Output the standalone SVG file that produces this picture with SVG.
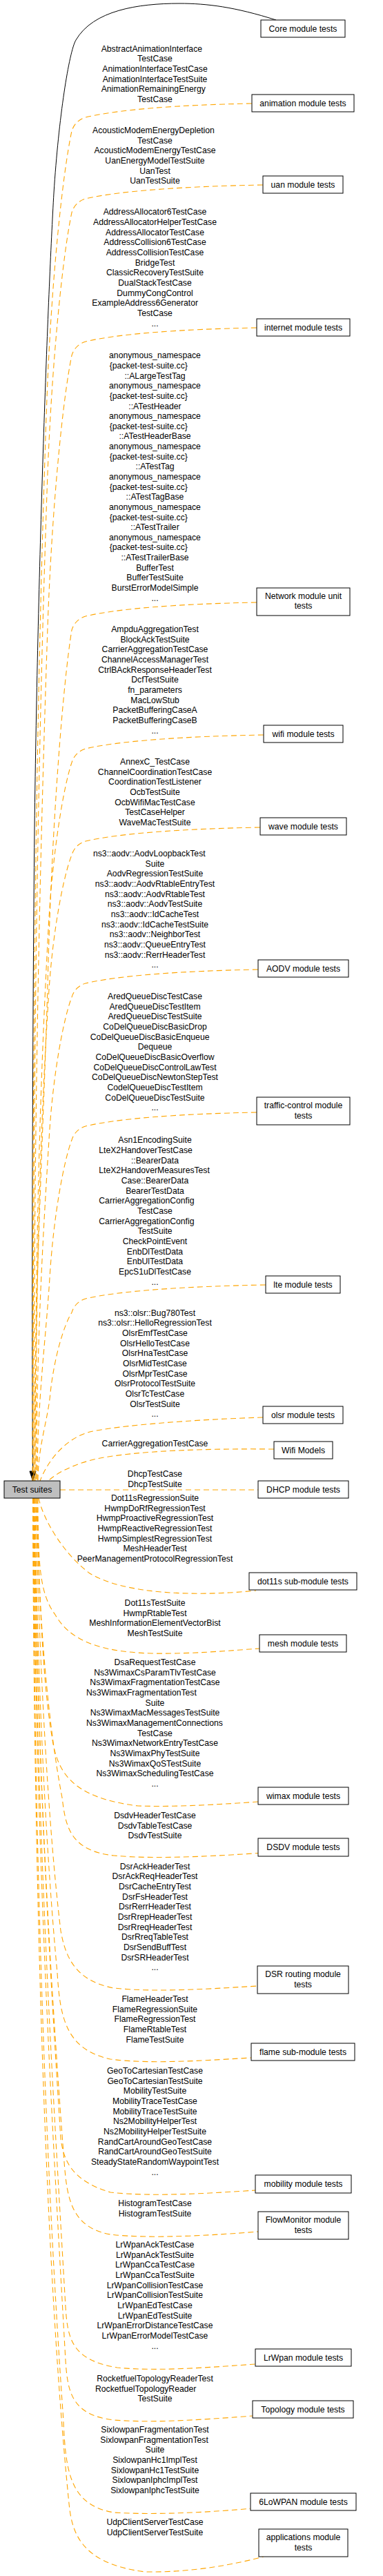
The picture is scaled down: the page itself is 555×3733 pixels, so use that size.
<svg xmlns="http://www.w3.org/2000/svg" width="555" height="3733" viewBox="0 0 555 3733">
<style>
text{font-family:"Liberation Sans",Arial,Helvetica,sans-serif;font-size:12.2px;fill:#000}
.n{text-anchor:middle}
.c{text-anchor:middle}
.l{text-anchor:start}
.box{fill:#fff;stroke:#000;stroke-width:1}
.root{fill:#bfbfbf;stroke:#000;stroke-width:1}
.d{fill:none;stroke:#ffa500;stroke-width:1.1;stroke-dasharray:8,5}
.s{fill:none;stroke:#000;stroke-width:1}
</style>
<rect x="0" y="0" width="555" height="3733" fill="#fff"/>
<g id="connectors">
<path class="s" d="M400,29 C340,10 300,5 260,5 C200,5 135,15 110,58 C100,75 85,170 78,280 C70,420 55,800 50,1200 C47,1500 46,1900 47.5,2132"/>
<polygon points="43,2132 52,2132 47.5,2146" fill="#000" stroke="#000"/>
<path class="d" d="M365,150 C256.5,152 170,159 124,170 C114,173 107,180 104,190 C90.9,250 73.8,410 67.5,590 C51.2,1056.8 47,1523.6 47,2146"/>
<path class="d" d="M381,268 C265.4,270 170,277 124,288 C114,291 107,298 104,308 C91.1,368 74.3,528 68.2,708 C53.4,1139.4 48,1570.8 48,2146"/>
<path class="d" d="M372,475 C260.4,477 170,484 124,495 C114,498 107,505 104,515 C91.4,575 74.9,735 68.8,915 C56.4,1284.3 49,1653.6 49,2146"/>
<path class="d" d="M372,873 C260.4,875 170,882 124,893 C114,896 107,903 104,913 C91.6,988 75.4,1188 69.4,1413 C63.6,1632.9 50,1852.8 50,2146"/>
<path class="d" d="M382,1065 C265.9,1067 170,1074 124,1085 C114,1088 107,1095 104,1105 C91.8,1141 75.9,1237 70.1,1345 C57.1,1585.3 51,1825.6 51,2146"/>
<path class="d" d="M377,1199 C263.2,1201 170,1208 124,1219 C114,1222 107,1229 104,1239 C92,1269 76.4,1349 70.7,1439 C57.2,1651.1 52,1863.2 52,2146"/>
<path class="d" d="M374,1405 C261.5,1407 170,1414 124,1425 C114,1428 107,1435 104,1445 C92.3,1475 77,1555 71.4,1645 C62,1795.3 53,1945.6 53,2146"/>
<path class="d" d="M372,1612 C260.4,1614 170,1621 124,1632 C114,1635 107,1642 104,1652 C92.5,1682 77.5,1762 72,1852 C66.6,1940.2 54,2028.4 54,2146"/>
<path class="d" d="M385,1862 C267.6,1864 170,1871 124,1882 C114,1885 107,1892 104,1902 C92.7,1920 78,1968 72.6,2022 C68.9,2059.2 55,2096.4 55,2146"/>
<path class="d" d="M381,2054 C280,2057 170,2066 130,2075 C100,2083 72,2110 58,2146"/>
<path class="d" d="M397,2100 C300,2099 200,2102 140,2114 C105,2122 80,2136 70,2146"/>
<path class="d" d="M87,2159 L374,2159"/>
<path class="d" d="M56,2171 C62,2200 90,2250 130,2280 C180,2310 280,2314 371,2305"/>
<path class="d" d="M55,2171 C55,2270 58,2310 80,2340 C100,2375 140,2394 220,2396 C280,2397 330,2392 376,2389"/>
<path class="d" d="M54,2171 C56,2300 62,2440 75,2515 C82,2565 100,2605 200,2617 C260,2619 330,2614 374,2611"/>
<path class="d" d="M53,2171 C56,2350 70,2500 90,2605 C95,2645 100,2682 165,2689 C230,2695 320,2689 374,2685.5"/>
<path class="d" d="M52,2171 C56,2400 70,2650 88,2798 C94,2830 105,2870 165,2881 C230,2888 320,2881 373,2878"/>
<path class="d" d="M51,2171 C54,2450 68,2700 83,2859 C87,2925 96,2970 160,2984 C220,2992 310,2985 364,2982"/>
<path class="d" d="M50,2171 C54,2550 72,2850 88,3099 C92,3130 103,3160 160,3177 C220,3184 310,3178 370,3174"/>
<path class="d" d="M49.5,2171 C53,2550 75,2900 93,3133 C97,3185 103,3228 160,3238 C220,3245 310,3239 374,3234"/>
<path class="d" d="M49,2171 C52,2650 78,3050 95,3343 C98,3390 104,3420 170,3431 C230,3437 310,3430 370,3426"/>
<path class="d" d="M48.5,2171 C51,2700 80,3150 95,3421 C98,3465 103,3500 165,3507 C230,3512 310,3505 366,3501"/>
<path class="d" d="M48,2171 C50,2750 70,3200 91.7,3504 C95,3580 100,3630 165,3641 C230,3645 310,3640 362.7,3635.3"/>
<path class="d" d="M47.5,2171 C49,2650 62,3250 100,3628 C104,3668 115,3715 210,3727 C280,3728 340,3716 381.7,3705"/>
</g>
<g id="edge-labels">
<text class="l" x="146.7" y="74.7">AbstractAnimationInterface</text>
<text class="c" x="224.5" y="89.4">TestCase</text>
<text class="c" x="224.5" y="104">AnimationInterfaceTestCase</text>
<text class="c" x="224.5" y="118.7">AnimationInterfaceTestSuite</text>
<text class="l" x="146.7" y="133.4">AnimationRemainingEnergy</text>
<text class="c" x="224.5" y="148">TestCase</text>

<text class="l" x="134" y="193">AcousticModemEnergyDepletion</text>
<text class="c" x="224.5" y="207.7">TestCase</text>
<text class="c" x="224.5" y="222.3">AcousticModemEnergyTestCase</text>
<text class="c" x="224.5" y="237">UanEnergyModelTestSuite</text>
<text class="c" x="224.5" y="251.7">UanTest</text>
<text class="c" x="224.5" y="266.3">UanTestSuite</text>

<text class="c" x="224.5" y="311.4">AddressAllocator6TestCase</text>
<text class="c" x="224.5" y="326.1">AddressAllocatorHelperTestCase</text>
<text class="c" x="224.5" y="340.7">AddressAllocatorTestCase</text>
<text class="c" x="224.5" y="355.4">AddressCollision6TestCase</text>
<text class="c" x="224.5" y="370.1">AddressCollisionTestCase</text>
<text class="c" x="224.5" y="384.7">BridgeTest</text>
<text class="c" x="224.5" y="399.4">ClassicRecoveryTestSuite</text>
<text class="c" x="224.5" y="414.1">DualStackTestCase</text>
<text class="c" x="224.5" y="428.8">DummyCongControl</text>
<text class="l" x="133.3" y="443.4">ExampleAddress6Generator</text>
<text class="c" x="224.5" y="458.1">TestCase</text>
<text class="c" x="224.5" y="472.8">...</text>

<text class="c" x="224.5" y="519.4">anonymous_namespace</text>
<text class="l" x="158.7" y="534">{packet-test-suite.cc}</text>
<text class="c" x="224.5" y="548.7">::ALargeTestTag</text>
<text class="c" x="224.5" y="563.3">anonymous_namespace</text>
<text class="l" x="158.7" y="577.9">{packet-test-suite.cc}</text>
<text class="c" x="224.5" y="592.6">::ATestHeader</text>
<text class="c" x="224.5" y="607.2">anonymous_namespace</text>
<text class="l" x="158.7" y="621.8">{packet-test-suite.cc}</text>
<text class="c" x="224.5" y="636.4">::ATestHeaderBase</text>
<text class="c" x="224.5" y="651.1">anonymous_namespace</text>
<text class="l" x="158.7" y="665.7">{packet-test-suite.cc}</text>
<text class="c" x="224.5" y="680.3">::ATestTag</text>
<text class="c" x="224.5" y="695">anonymous_namespace</text>
<text class="l" x="158.7" y="709.6">{packet-test-suite.cc}</text>
<text class="c" x="224.5" y="724.2">::ATestTagBase</text>
<text class="c" x="224.5" y="738.9">anonymous_namespace</text>
<text class="l" x="158.7" y="753.5">{packet-test-suite.cc}</text>
<text class="c" x="224.5" y="768.1">::ATestTrailer</text>
<text class="c" x="224.5" y="782.7">anonymous_namespace</text>
<text class="l" x="158.7" y="797.4">{packet-test-suite.cc}</text>
<text class="c" x="224.5" y="812">::ATestTrailerBase</text>
<text class="c" x="224.5" y="826.6">BufferTest</text>
<text class="c" x="224.5" y="841.3">BufferTestSuite</text>
<text class="c" x="224.5" y="855.9">BurstErrorModelSimple</text>
<text class="c" x="224.5" y="870.5">...</text>

<text class="c" x="224.5" y="916">AmpduAggregationTest</text>
<text class="c" x="224.5" y="930.7">BlockAckTestSuite</text>
<text class="c" x="224.5" y="945.3">CarrierAggregationTestCase</text>
<text class="c" x="224.5" y="960">ChannelAccessManagerTest</text>
<text class="c" x="224.5" y="974.7">CtrlBAckResponseHeaderTest</text>
<text class="c" x="224.5" y="989.3">DcfTestSuite</text>
<text class="c" x="224.5" y="1004">fn_parameters</text>
<text class="c" x="224.5" y="1018.7">MacLowStub</text>
<text class="c" x="224.5" y="1033.3">PacketBufferingCaseA</text>
<text class="c" x="224.5" y="1048">PacketBufferingCaseB</text>
<text class="c" x="224.5" y="1062.7">...</text>

<text class="c" x="224.5" y="1108">AnnexC_TestCase</text>
<text class="c" x="224.5" y="1122.7">ChannelCoordinationTestCase</text>
<text class="c" x="224.5" y="1137.3">CoordinationTestListener</text>
<text class="c" x="224.5" y="1152">OcbTestSuite</text>
<text class="c" x="224.5" y="1166.7">OcbWifiMacTestCase</text>
<text class="c" x="224.5" y="1181.3">TestCaseHelper</text>
<text class="c" x="224.5" y="1196">WaveMacTestSuite</text>

<text class="l" x="135" y="1241">ns3::aodv::AodvLoopbackTest</text>
<text class="c" x="224.5" y="1255.7">Suite</text>
<text class="c" x="224.5" y="1270.3">AodvRegressionTestSuite</text>
<text class="c" x="224.5" y="1285">ns3::aodv::AodvRtableEntryTest</text>
<text class="c" x="224.5" y="1299.7">ns3::aodv::AodvRtableTest</text>
<text class="c" x="224.5" y="1314.3">ns3::aodv::AodvTestSuite</text>
<text class="c" x="224.5" y="1329">ns3::aodv::IdCacheTest</text>
<text class="c" x="224.5" y="1343.7">ns3::aodv::IdCacheTestSuite</text>
<text class="c" x="224.5" y="1358.3">ns3::aodv::NeighborTest</text>
<text class="c" x="224.5" y="1373">ns3::aodv::QueueEntryTest</text>
<text class="c" x="224.5" y="1387.7">ns3::aodv::RerrHeaderTest</text>
<text class="c" x="224.5" y="1402.3">...</text>

<text class="c" x="224.5" y="1448">AredQueueDiscTestCase</text>
<text class="c" x="224.5" y="1462.7">AredQueueDiscTestItem</text>
<text class="c" x="224.5" y="1477.3">AredQueueDiscTestSuite</text>
<text class="c" x="224.5" y="1492">CoDelQueueDiscBasicDrop</text>
<text class="l" x="130.7" y="1506.7">CoDelQueueDiscBasicEnqueue</text>
<text class="c" x="224.5" y="1521.3">Dequeue</text>
<text class="c" x="224.5" y="1536">CoDelQueueDiscBasicOverflow</text>
<text class="c" x="224.5" y="1550.7">CoDelQueueDiscControlLawTest</text>
<text class="c" x="224.5" y="1565.3">CoDelQueueDiscNewtonStepTest</text>
<text class="c" x="224.5" y="1580">CodelQueueDiscTestItem</text>
<text class="c" x="224.5" y="1594.7">CoDelQueueDiscTestSuite</text>
<text class="c" x="224.5" y="1609.3">...</text>

<text class="c" x="224.5" y="1656.4">Asn1EncodingSuite</text>
<text class="l" x="143.3" y="1671.1">LteX2HandoverTestCase</text>
<text class="c" x="224.5" y="1685.7">::BearerData</text>
<text class="l" x="143.3" y="1700.4">LteX2HandoverMeasuresTest</text>
<text class="c" x="224.5" y="1715.1">Case::BearerData</text>
<text class="c" x="224.5" y="1729.7">BearerTestData</text>
<text class="l" x="143.3" y="1744.4">CarrierAggregationConfig</text>
<text class="c" x="224.5" y="1759.1">TestCase</text>
<text class="l" x="143.3" y="1773.7">CarrierAggregationConfig</text>
<text class="c" x="224.5" y="1788.4">TestSuite</text>
<text class="c" x="224.5" y="1803.1">CheckPointEvent</text>
<text class="c" x="224.5" y="1817.7">EnbDlTestData</text>
<text class="c" x="224.5" y="1832.4">EnbUlTestData</text>
<text class="c" x="224.5" y="1847.1">EpcS1uDlTestCase</text>
<text class="c" x="224.5" y="1861.7">...</text>

<text class="c" x="224.5" y="1906.7">ns3::olsr::Bug780Test</text>
<text class="c" x="224.5" y="1921.4">ns3::olsr::HelloRegressionTest</text>
<text class="c" x="224.5" y="1936">OlsrEmfTestCase</text>
<text class="c" x="224.5" y="1950.7">OlsrHelloTestCase</text>
<text class="c" x="224.5" y="1965.4">OlsrHnaTestCase</text>
<text class="c" x="224.5" y="1980">OlsrMidTestCase</text>
<text class="c" x="224.5" y="1994.7">OlsrMprTestCase</text>
<text class="c" x="224.5" y="2009.4">OlsrProtocolTestSuite</text>
<text class="c" x="224.5" y="2024">OlsrTcTestCase</text>
<text class="c" x="224.5" y="2038.7">OlsrTestSuite</text>
<text class="c" x="224.5" y="2053.4">...</text>

<text class="c" x="224.5" y="2096.4">CarrierAggregationTestCase</text>

<text class="c" x="224.5" y="2140">DhcpTestCase</text>
<text class="c" x="224.5" y="2154.7">DhcpTestSuite</text>

<text class="c" x="224.5" y="2175">Dot11sRegressionSuite</text>
<text class="c" x="224.5" y="2189.7">HwmpDoRfRegressionTest</text>
<text class="c" x="224.5" y="2204.3">HwmpProactiveRegressionTest</text>
<text class="c" x="224.5" y="2219">HwmpReactiveRegressionTest</text>
<text class="c" x="224.5" y="2233.7">HwmpSimplestRegressionTest</text>
<text class="c" x="224.5" y="2248.3">MeshHeaderTest</text>
<text class="c" x="224.5" y="2263">PeerManagementProtocolRegressionTest</text>

<text class="c" x="224.5" y="2327">Dot11sTestSuite</text>
<text class="c" x="224.5" y="2341.7">HwmpRtableTest</text>
<text class="c" x="224.5" y="2356.3">MeshInformationElementVectorBist</text>
<text class="c" x="224.5" y="2371">MeshTestSuite</text>

<text class="c" x="224.5" y="2413">DsaRequestTestCase</text>
<text class="c" x="224.5" y="2427.7">Ns3WimaxCsParamTlvTestCase</text>
<text class="c" x="224.5" y="2442.3">Ns3WimaxFragmentationTestCase</text>
<text class="l" x="125" y="2457">Ns3WimaxFragmentationTest</text>
<text class="c" x="224.5" y="2471.7">Suite</text>
<text class="c" x="224.5" y="2486.3">Ns3WimaxMacMessagesTestSuite</text>
<text class="l" x="125" y="2501">Ns3WimaxManagementConnections</text>
<text class="c" x="224.5" y="2515.7">TestCase</text>
<text class="c" x="224.5" y="2530.3">Ns3WimaxNetworkEntryTestCase</text>
<text class="c" x="224.5" y="2545">Ns3WimaxPhyTestSuite</text>
<text class="c" x="224.5" y="2559.7">Ns3WimaxQoSTestSuite</text>
<text class="c" x="224.5" y="2574.3">Ns3WimaxSchedulingTestCase</text>
<text class="c" x="224.5" y="2589">...</text>

<text class="c" x="224.5" y="2635">DsdvHeaderTestCase</text>
<text class="c" x="224.5" y="2649.7">DsdvTableTestCase</text>
<text class="c" x="224.5" y="2664.3">DsdvTestSuite</text>

<text class="c" x="224.5" y="2708.7">DsrAckHeaderTest</text>
<text class="c" x="224.5" y="2723.4">DsrAckReqHeaderTest</text>
<text class="c" x="224.5" y="2738">DsrCacheEntryTest</text>
<text class="c" x="224.5" y="2752.7">DsrFsHeaderTest</text>
<text class="c" x="224.5" y="2767.4">DsrRerrHeaderTest</text>
<text class="c" x="224.5" y="2782">DsrRrepHeaderTest</text>
<text class="c" x="224.5" y="2796.7">DsrRreqHeaderTest</text>
<text class="c" x="224.5" y="2811.4">DsrRreqTableTest</text>
<text class="c" x="224.5" y="2826">DsrSendBuffTest</text>
<text class="c" x="224.5" y="2840.7">DsrSRHeaderTest</text>
<text class="c" x="224.5" y="2855.4">...</text>

<text class="c" x="224.5" y="2901">FlameHeaderTest</text>
<text class="c" x="224.5" y="2915.7">FlameRegressionSuite</text>
<text class="c" x="224.5" y="2930.3">FlameRegressionTest</text>
<text class="c" x="224.5" y="2945">FlameRtableTest</text>
<text class="c" x="224.5" y="2959.7">FlameTestSuite</text>

<text class="c" x="224.5" y="3005">GeoToCartesianTestCase</text>
<text class="c" x="224.5" y="3019.7">GeoToCartesianTestSuite</text>
<text class="c" x="224.5" y="3034.3">MobilityTestSuite</text>
<text class="c" x="224.5" y="3049">MobilityTraceTestCase</text>
<text class="c" x="224.5" y="3063.7">MobilityTraceTestSuite</text>
<text class="c" x="224.5" y="3078.3">Ns2MobilityHelperTest</text>
<text class="c" x="224.5" y="3093">Ns2MobilityHelperTestSuite</text>
<text class="c" x="224.5" y="3107.7">RandCartAroundGeoTestCase</text>
<text class="c" x="224.5" y="3122.3">RandCartAroundGeoTestSuite</text>
<text class="c" x="224.5" y="3137">SteadyStateRandomWaypointTest</text>
<text class="c" x="224.5" y="3151.7">...</text>

<text class="c" x="224.5" y="3197">HistogramTestCase</text>
<text class="c" x="224.5" y="3211.7">HistogramTestSuite</text>

<text class="c" x="224.5" y="3257">LrWpanAckTestCase</text>
<text class="c" x="224.5" y="3271.7">LrWpanAckTestSuite</text>
<text class="c" x="224.5" y="3286.3">LrWpanCcaTestCase</text>
<text class="c" x="224.5" y="3301">LrWpanCcaTestSuite</text>
<text class="c" x="224.5" y="3315.7">LrWpanCollisionTestCase</text>
<text class="c" x="224.5" y="3330.3">LrWpanCollisionTestSuite</text>
<text class="c" x="224.5" y="3345">LrWpanEdTestCase</text>
<text class="c" x="224.5" y="3359.7">LrWpanEdTestSuite</text>
<text class="c" x="224.5" y="3374.3">LrWpanErrorDistanceTestCase</text>
<text class="c" x="224.5" y="3389">LrWpanErrorModelTestCase</text>
<text class="c" x="224.5" y="3403.7">...</text>

<text class="c" x="224.5" y="3451">RocketfuelTopologyReaderTest</text>
<text class="l" x="138" y="3465.7">RocketfuelTopologyReader</text>
<text class="c" x="224.5" y="3480.3">TestSuite</text>

<text class="c" x="224.5" y="3525">SixlowpanFragmentationTest</text>
<text class="l" x="145.3" y="3539.7">SixlowpanFragmentationTest</text>
<text class="c" x="224.5" y="3554.3">Suite</text>
<text class="c" x="224.5" y="3569">SixlowpanHc1ImplTest</text>
<text class="c" x="224.5" y="3583.7">SixlowpanHc1TestSuite</text>
<text class="c" x="224.5" y="3598.3">SixlowpanIphcImplTest</text>
<text class="c" x="224.5" y="3613">SixlowpanIphcTestSuite</text>

<text class="c" x="224.5" y="3659">UdpClientServerTestCase</text>
<text class="c" x="224.5" y="3673.7">UdpClientServerTestSuite</text>
</g>
<g id="node-test-suites"><rect class="root" x="6" y="2146" width="81" height="25"/><text class="n" x="46.5" y="2162.8">Test suites</text></g>
<g id="node-core"><rect class="box" x="378" y="29" width="122" height="25"/><text class="n" x="439" y="45.8">Core module tests</text></g>
<g id="node-animation"><rect class="box" x="365" y="137" width="148" height="25"/><text class="n" x="439" y="153.8">animation module tests</text></g>
<g id="node-uan"><rect class="box" x="381" y="255" width="116" height="25"/><text class="n" x="439" y="271.8">uan module tests</text></g>
<g id="node-internet"><rect class="box" x="372" y="462" width="135" height="25"/><text class="n" x="439.5" y="478.8">internet module tests</text></g>
<g id="node-network"><rect class="box" x="372" y="852" width="135" height="40"/><text class="n" x="439.5" y="867.7">Network module unit</text><text class="n" x="439.5" y="882.4">tests</text></g>
<g id="node-wifi"><rect class="box" x="382" y="1051" width="115" height="25"/><text class="n" x="439.5" y="1067.8">wifi module tests</text></g>
<g id="node-wave"><rect class="box" x="377" y="1185" width="125" height="25"/><text class="n" x="439.5" y="1201.8">wave module tests</text></g>
<g id="node-aodv"><rect class="box" x="374" y="1391" width="131" height="25"/><text class="n" x="439.5" y="1407.8">AODV module tests</text></g>
<g id="node-traffic-control"><rect class="box" x="372" y="1590" width="135" height="40"/><text class="n" x="439.5" y="1606.2">traffic-control module</text><text class="n" x="439.5" y="1620.9">tests</text></g>
<g id="node-lte"><rect class="box" x="385" y="1849" width="108" height="25"/><text class="n" x="439" y="1865.8">lte module tests</text></g>
<g id="node-olsr"><rect class="box" x="381" y="2038" width="116" height="25"/><text class="n" x="439" y="2054.8">olsr module tests</text></g>
<g id="node-wifi-models"><rect class="box" x="397" y="2089" width="85" height="25"/><text class="n" x="439.5" y="2105.8">Wifi Models</text></g>
<g id="node-dhcp"><rect class="box" x="374" y="2146" width="131" height="25"/><text class="n" x="439.5" y="2162.8">DHCP module tests</text></g>
<g id="node-dot11s"><rect class="box" x="361" y="2279" width="156" height="25"/><text class="n" x="439" y="2295.8">dot11s sub-module tests</text></g>
<g id="node-mesh"><rect class="box" x="376" y="2369" width="126" height="25"/><text class="n" x="439" y="2385.8">mesh module tests</text></g>
<g id="node-wimax"><rect class="box" x="374" y="2590" width="131" height="25"/><text class="n" x="439.5" y="2606.8">wimax module tests</text></g>
<g id="node-dsdv"><rect class="box" x="374" y="2664" width="131" height="26"/><text class="n" x="439.5" y="2681.2">DSDV module tests</text></g>
<g id="node-dsr"><rect class="box" x="373" y="2849" width="132" height="40"/><text class="n" x="439" y="2865.2">DSR routing module</text><text class="n" x="439" y="2879.9">tests</text></g>
<g id="node-flame"><rect class="box" x="364" y="2961" width="150" height="25"/><text class="n" x="439" y="2977.8">flame sub-module tests</text></g>
<g id="node-mobility"><rect class="box" x="370" y="3152" width="139" height="26"/><text class="n" x="439.5" y="3169">mobility module tests</text></g>
<g id="node-flowmonitor"><rect class="box" x="374" y="3205" width="131" height="40"/><text class="n" x="439.5" y="3221.2">FlowMonitor module</text><text class="n" x="439.5" y="3235.9">tests</text></g>
<g id="node-lrwpan"><rect class="box" x="370" y="3404" width="139" height="25"/><text class="n" x="439.5" y="3420.8">LrWpan module tests</text></g>
<g id="node-topology"><rect class="box" x="366" y="3479" width="146" height="25"/><text class="n" x="439" y="3495.8">Topology module tests</text></g>
<g id="node-6lowpan"><rect class="box" x="363" y="3613" width="153" height="25"/><text class="n" x="439.5" y="3629.8">6LoWPAN module tests</text></g>
<g id="node-applications"><rect class="box" x="375" y="3665" width="129" height="40"/><text class="n" x="439.5" y="3681.2">applications module</text><text class="n" x="439.5" y="3695.9">tests</text></g>
</svg>
